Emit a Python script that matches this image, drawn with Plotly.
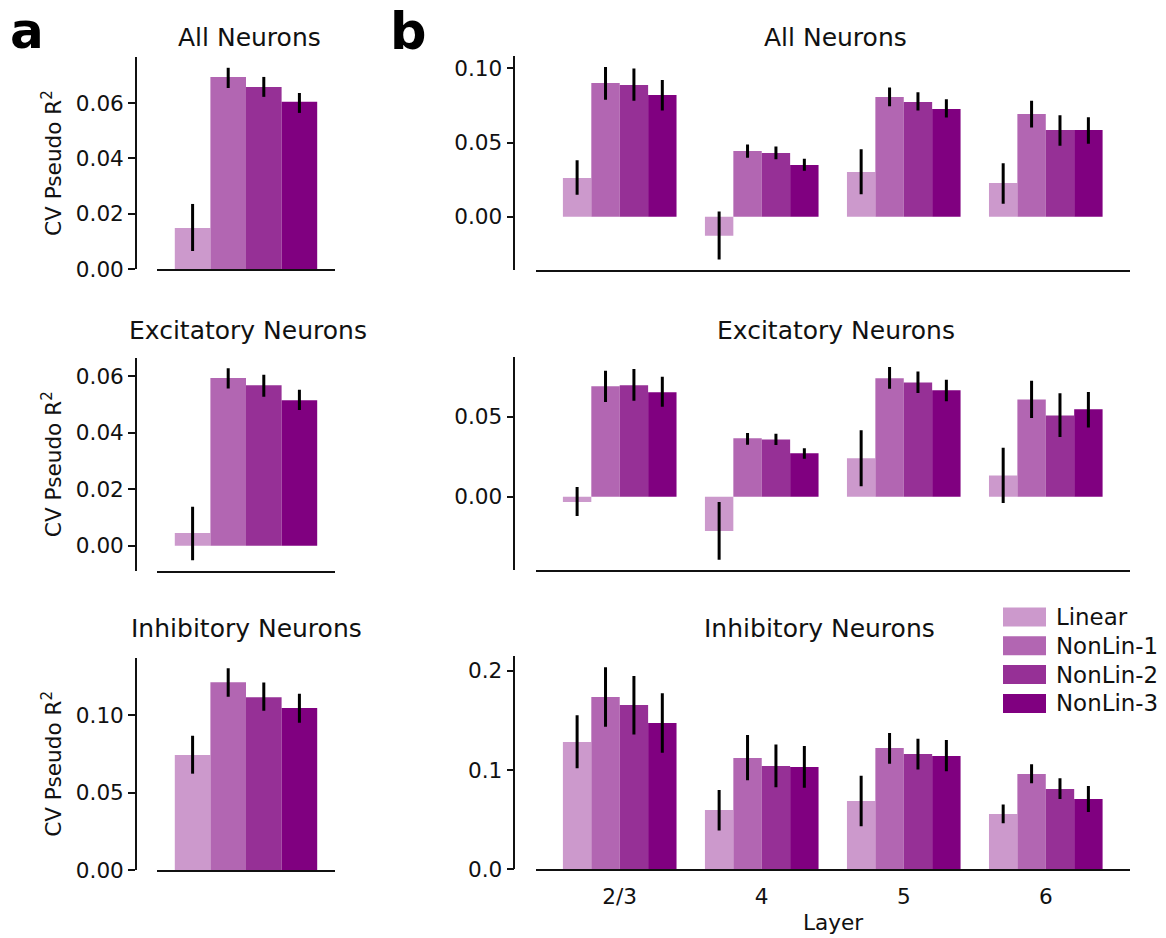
import plotly.graph_objects as go

W, H = 1166, 938

models = ["Linear", "NonLin-1", "NonLin-2", "NonLin-3"]
colors = ["#CC99CC", "#B266B2", "#963096", "#800080"]
layers = ["2/3", "4", "5", "6"]

# Panel a (one group, values per model)
a_all_mean = [0.0148, 0.0694, 0.0658, 0.0604]
a_all_lo = [0.0065, 0.0654, 0.0622, 0.0564]
a_all_hi = [0.0235, 0.0727, 0.0694, 0.0636]

a_exc_mean = [0.0045, 0.0593, 0.0568, 0.0515]
a_exc_lo = [-0.0051, 0.0556, 0.0527, 0.0480]
a_exc_hi = [0.0138, 0.0628, 0.0605, 0.0552]

a_inh_mean = [0.0743, 0.1215, 0.1118, 0.1047]
a_inh_lo = [0.0623, 0.1120, 0.1030, 0.0952]
a_inh_hi = [0.0868, 0.1304, 0.1213, 0.1140]

# Panel b (rows = models, columns = layers)
b_all_mean = [[0.0261, -0.0128, 0.0301, 0.0227],
              [0.0901, 0.0443, 0.0807, 0.0692],
              [0.0888, 0.0429, 0.0773, 0.0584],
              [0.0820, 0.0348, 0.0726, 0.0584]]
b_all_lo = [[0.0148, -0.0288, 0.0151, 0.0088],
            [0.0789, 0.0398, 0.0744, 0.0602],
            [0.0782, 0.0387, 0.0715, 0.0479],
            [0.0715, 0.0310, 0.0668, 0.0492]]
b_all_hi = [[0.0380, 0.0036, 0.0454, 0.0360],
            [0.1009, 0.0486, 0.0870, 0.0782],
            [0.0998, 0.0474, 0.0839, 0.0683],
            [0.0922, 0.0391, 0.0791, 0.0670]]

b_exc_mean = [[-0.0033, -0.0215, 0.0240, 0.0133],
              [0.0690, 0.0365, 0.0740, 0.0608],
              [0.0696, 0.0358, 0.0714, 0.0508],
              [0.0652, 0.0271, 0.0665, 0.0546]]
b_exc_lo = [[-0.0121, -0.0394, 0.0065, -0.0040],
            [0.0592, 0.0325, 0.0675, 0.0492],
            [0.0600, 0.0323, 0.0648, 0.0373],
            [0.0562, 0.0237, 0.0596, 0.0433]]
b_exc_hi = [[0.0060, -0.0033, 0.0415, 0.0306],
            [0.0787, 0.0398, 0.0810, 0.0725],
            [0.0798, 0.0394, 0.0783, 0.0646],
            [0.0750, 0.0302, 0.0730, 0.0654]]

b_inh_mean = [[0.1284, 0.0598, 0.0689, 0.0558],
              [0.1737, 0.1122, 0.1223, 0.0961],
              [0.1657, 0.1042, 0.1163, 0.0810],
              [0.1475, 0.1032, 0.1142, 0.0709]]
b_inh_lo = [[0.1018, 0.0390, 0.0433, 0.0464],
            [0.1438, 0.0897, 0.1065, 0.0867],
            [0.1360, 0.0827, 0.1005, 0.0709],
            [0.1176, 0.0823, 0.0988, 0.0578]]
b_inh_hi = [[0.1553, 0.0800, 0.0944, 0.0652],
            [0.2036, 0.1354, 0.1374, 0.1058],
            [0.1949, 0.1257, 0.1317, 0.0917],
            [0.1774, 0.1243, 0.1304, 0.0840]]

titles = ["All Neurons", "Excitatory Neurons", "Inhibitory Neurons"]

FONT = "DejaVu Sans"
TICK = 21.6
TITLE = 25
INK = "#111111"


def px_x(p):
    return p / W


def px_y(p):
    return 1 - p / H


# pixel geometry
a_xdom = [px_x(157), px_x(335)]
a_ypos = px_x(136)
b_xdom = [px_x(535.5), px_x(1130)]
b_ypos = px_x(514.4)
a_ydoms = [(57, 269), (357.7, 570.7), (657.7, 870)]
b_ydoms = [(56, 270), (357.3, 570), (656, 869.3)]
a_ranges = [[0, 0.0766], [-0.0088, 0.0665], [0, 0.1373]]
b_ranges = [[-0.0359, 0.1083], [-0.0458, 0.0871], [0, 0.215]]
a_ticks = [[0, 0.02, 0.04, 0.06], [0, 0.02, 0.04, 0.06], [0, 0.05, 0.10]]
b_ticks = [[0, 0.05, 0.10], [0, 0.05], [0, 0.1, 0.2]]
a_fmt = ["{:.2f}", "{:.2f}", "{:.2f}"]
b_fmt = ["{:.2f}", "{:.2f}", "{:.1f}"]
a_title_x = [249, 248, 246]
b_title_x = [835, 836, 819]
title_y = [37.5, 330, 628.5]

a_data = [(a_all_mean, a_all_lo, a_all_hi),
          (a_exc_mean, a_exc_lo, a_exc_hi),
          (a_inh_mean, a_inh_lo, a_inh_hi)]
b_data = [(b_all_mean, b_all_lo, b_all_hi),
          (b_exc_mean, b_exc_lo, b_exc_hi),
          (b_inh_mean, b_inh_lo, b_inh_hi)]

fig = go.Figure()
layout = {}
annotations = []
shapes = []

axis_idx = 0
for row in range(3):
    for side in ("a", "b"):
        axis_idx += 1
        xa = "x" if axis_idx == 1 else f"x{axis_idx}"
        ya = "y" if axis_idx == 1 else f"y{axis_idx}"
        xkey = "xaxis" if axis_idx == 1 else f"xaxis{axis_idx}"
        ykey = "yaxis" if axis_idx == 1 else f"yaxis{axis_idx}"
        if side == "a":
            mean, lo, hi = a_data[row]
            for i, m in enumerate(models):
                fig.add_trace(go.Bar(
                    x=[0], y=[mean[i]], width=0.2, offset=-0.4 + 0.2 * i,
                    marker=dict(color=colors[i], line=dict(width=0)),
                    error_y=dict(type="data", symmetric=False,
                                 array=[hi[i] - mean[i]],
                                 arrayminus=[mean[i] - lo[i]],
                                 color="black", thickness=3, width=0),
                    xaxis=xa, yaxis=ya, showlegend=False, name=m))
            xdom, ypos = a_xdom, a_ypos
            yd = a_ydoms[row]
            yr = a_ranges[row]
            tv = a_ticks[row]
            tt = [a_fmt[row].format(v) for v in tv]
            xr = [-0.5, 0.5]
            tx = a_title_x[row]
        else:
            mean, lo, hi = b_data[row]
            for i, m in enumerate(models):
                fig.add_trace(go.Bar(
                    x=list(range(len(layers))), y=mean[i], width=0.2,
                    offset=-0.4 + 0.2 * i,
                    marker=dict(color=colors[i], line=dict(width=0)),
                    error_y=dict(type="data", symmetric=False,
                                 array=[h - v for h, v in zip(hi[i], mean[i])],
                                 arrayminus=[v - l for v, l in zip(mean[i], lo[i])],
                                 color="black", thickness=3, width=0),
                    xaxis=xa, yaxis=ya, showlegend=False, name=m))
            xdom, ypos = b_xdom, b_ypos
            yd = b_ydoms[row]
            yr = b_ranges[row]
            tv = b_ticks[row]
            tt = [b_fmt[row].format(v) for v in tv]
            xr = [-0.593, 3.593]
            tx = b_title_x[row]

        xaxis = dict(domain=xdom, range=xr, anchor=ya, showline=True,
                     linecolor=INK, linewidth=1.6, showgrid=False,
                     zeroline=False, ticks="", fixedrange=True)
        if side == "b" and row == 2:
            xaxis.update(tickmode="array", tickvals=list(range(len(layers))),
                         ticktext=layers, showticklabels=True,
                         tickfont=dict(family=FONT, size=TICK, color=INK),
                         ticklabelstandoff=7)
        else:
            xaxis.update(showticklabels=False)
        layout[xkey] = xaxis
        layout[ykey] = dict(domain=[px_y(yd[1]), px_y(yd[0])], range=yr,
                            anchor="free", position=ypos, showline=True,
                            linecolor=INK, linewidth=1.6, showgrid=False,
                            zeroline=False, ticks="outside", ticklen=7,
                            tickwidth=1.6, tickcolor=INK,
                            tickmode="array", tickvals=tv, ticktext=tt,
                            tickfont=dict(family=FONT, size=TICK, color=INK),
                            fixedrange=True)

        # panel title
        annotations.append(dict(text=titles[row], x=px_x(tx), y=px_y(title_y[row]),
                                xref="paper", yref="paper", xanchor="center",
                                yanchor="middle", showarrow=False,
                                font=dict(family=FONT, size=TITLE, color=INK)))
        if side == "a":
            annotations.append(dict(text="CV Pseudo R<sup>2</sup>",
                                    x=px_x(52), y=px_y((yd[0] + yd[1]) / 2),
                                    xref="paper", yref="paper",
                                    xanchor="center", yanchor="middle",
                                    textangle=-90, showarrow=False,
                                    font=dict(family=FONT, size=TICK, color=INK)))

# x axis label
annotations.append(dict(text="Layer", x=(b_xdom[0] + b_xdom[1]) / 2, y=px_y(922),
                        xref="paper", yref="paper", xanchor="center",
                        yanchor="middle", showarrow=False,
                        font=dict(family=FONT, size=TICK, color=INK)))
# panel letters
annotations.append(dict(text="<b>a</b>", x=px_x(8), y=px_y(0), xref="paper",
                        yref="paper", xanchor="left", yanchor="top",
                        showarrow=False, font=dict(family=FONT, size=50, color="black")))
annotations.append(dict(text="<b>b</b>", x=px_x(388), y=px_y(0), xref="paper",
                        yref="paper", xanchor="left", yanchor="top",
                        showarrow=False, font=dict(family=FONT, size=51, color="black")))

# legend (manual)
for i, m in enumerate(models):
    cy = 617 + 28.8 * i
    shapes.append(dict(type="rect", xref="paper", yref="paper",
                       x0=px_x(1003), x1=px_x(1046), y0=px_y(cy + 9.5), y1=px_y(cy - 9.5),
                       fillcolor=colors[i], line=dict(width=0)))
    annotations.append(dict(text=m, x=px_x(1054), y=px_y(cy), xref="paper",
                            yref="paper", xanchor="left", yanchor="middle",
                            showarrow=False,
                            font=dict(family=FONT, size=22.9, color=INK)))

fig.update_layout(
    width=W, height=H, autosize=False,
    margin=dict(l=0, r=0, t=0, b=0, autoexpand=False),
    paper_bgcolor="white", plot_bgcolor="white",
    barmode="group", bargap=0.2, bargroupgap=0,
    annotations=annotations, shapes=shapes,
    showlegend=False,
    **layout,
)

fig.write_html("out.html", config={"responsive": False})
